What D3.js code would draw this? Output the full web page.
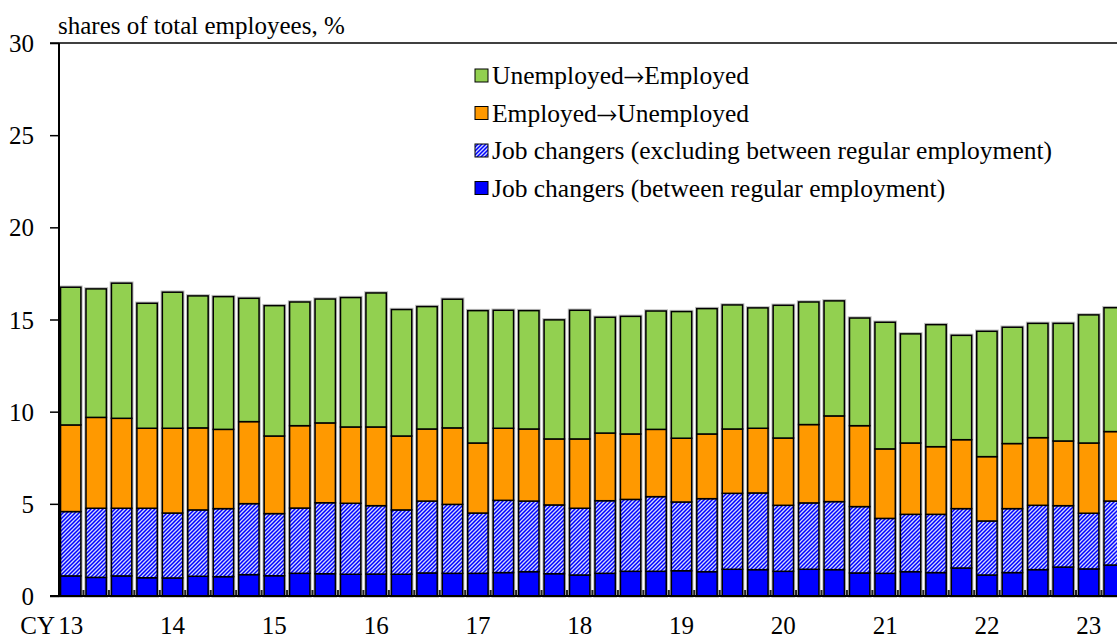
<!DOCTYPE html>
<html>
<head>
<meta charset="utf-8">
<script src="https://cdn.jsdelivr.net/npm/d3@7"></script>
<style>
    body { margin: 0; background: #fff; }
</style>
</head>
<body>
<svg id="chart" width="1117" height="639"></svg>
<script>

var serif = 'Liberation Serif';

// quarters 2013Q1 .. 2023Q2
var quarters = [];
for (var yr = 13; yr <= 23; yr++) {
    for (var q = 1; q <= 4; q++) {
        if (yr === 23 && q > 2) break;
        quarters.push(yr + 'Q' + q);
    }
}

var yearLabels = ['13', '14', '15', '16', '17', '18', '19', '20', '21', '22', '23'];

// legend names as [before arrow, arrow, after arrow]
var seriesNames = [
    ['Job changers (between regular employment)', '', ''],
    ['Job changers (excluding between regular employment)', '', ''],
    ['Employed', '\u2192', 'Unemployed'],
    ['Unemployed', '\u2192', 'Employed']
];

var betweenRegular = [1.09, 1.01, 1.09, 0.99, 0.98, 1.07, 1.05, 1.16, 1.10, 1.23, 1.21, 1.18, 1.19, 1.18,
    1.25, 1.23, 1.23, 1.27, 1.32, 1.21, 1.14, 1.23, 1.34, 1.34, 1.37, 1.32, 1.45, 1.43,
    1.34, 1.45, 1.43, 1.25, 1.23, 1.32, 1.27, 1.52, 1.14, 1.27, 1.43, 1.57, 1.47, 1.68];

var excludingRegular = [3.49, 3.75, 3.67, 3.77, 3.52, 3.60, 3.69, 3.85, 3.37, 3.54, 3.85, 3.85, 3.71, 3.49,
    3.90, 3.74, 3.27, 3.92, 3.83, 3.73, 3.62, 3.94, 3.90, 4.05, 3.73, 3.96, 4.12, 4.16,
    3.58, 3.60, 3.69, 3.60, 2.98, 3.11, 3.16, 3.22, 2.93, 3.47, 3.49, 3.33, 3.02, 3.47];

var employedToUnemployed = [4.70, 4.93, 4.88, 4.34, 4.60, 4.45, 4.30, 4.45, 4.21, 4.47, 4.33, 4.14, 4.27, 4.01,
    3.91, 4.15, 3.80, 3.91, 3.91, 3.58, 3.76, 3.67, 3.55, 3.65, 3.46, 3.51, 3.49, 3.51,
    3.65, 4.25, 4.65, 4.39, 3.77, 3.87, 3.67, 3.74, 3.49, 3.53, 3.67, 3.51, 3.81, 3.77];

var unemployedToEmployed = [7.47, 6.97, 7.33, 6.78, 7.38, 7.16, 7.20, 6.69, 7.07, 6.71, 6.72, 7.02, 7.27, 6.86,
    6.64, 6.98, 7.18, 6.40, 6.42, 6.46, 6.98, 6.28, 6.38, 6.42, 6.87, 6.80, 6.73, 6.53,
    7.20, 6.65, 6.24, 5.84, 6.87, 5.92, 6.62, 5.66, 6.80, 6.31, 6.20, 6.38, 6.95, 6.72];

var yTicks = [0, 5, 10, 15, 20, 25, 30];

var colors = ['#0000ff', 'url(#hatch)', '#ff9900', '#92d050'];

var svg = d3.select('#chart');

var plotTop = 43,
    plotBottom = 596,
    plotLeft = 59,
    step = 25.45;

var defs = svg.append('defs');
var pat = defs.append('pattern')
    .attr('id', 'hatch')
    .attr('patternUnits', 'userSpaceOnUse')
    .attr('width', 4)
    .attr('height', 4);
pat.append('rect')
    .attr('width', 4)
    .attr('height', 4)
    .attr('fill', '#d0d8ff');
pat.append('path')
    .attr('d', 'M-1,1 l2,-2 M0,4 l4,-4 M3,5 l2,-2')
    .attr('stroke', '#0000ff')
    .attr('stroke-width', 1.5);

var x = d3.scaleBand()
    .domain(quarters)
    .range([plotLeft - 1, plotLeft - 1 + step * quarters.length])
    .paddingInner(0.2)
    .paddingOuter(0.1);

var y = d3.scaleLinear()
    .domain([0, 30])
    .range([plotBottom, plotTop]);

var table = quarters.map(function(d, i) {
    return {
        quarter: d,
        s0: betweenRegular[i],
        s1: excludingRegular[i],
        s2: employedToUnemployed[i],
        s3: unemployedToEmployed[i]
    };
});

var stack = d3.stack().keys(['s0', 's1', 's2', 's3']);
var layers = stack(table);

// light halo round each bar
svg.append('g')
    .selectAll('rect')
    .data(table)
    .join('rect')
    .attr('x', function(d) { return x(d.quarter); })
    .attr('width', x.bandwidth())
    .attr('y', function(d) { return y(d.s0 + d.s1 + d.s2 + d.s3); })
    .attr('height', function(d) { return y(0) - y(d.s0 + d.s1 + d.s2 + d.s3); })
    .attr('fill', 'none')
    .attr('stroke', '#bdbdbd')
    .attr('stroke-width', 3.5);

svg.append('g')
    .selectAll('g')
    .data(layers)
    .join('g')
    .attr('fill', function(d, i) { return colors[i]; })
    .selectAll('rect')
    .data(function(d) { return d; })
    .join('rect')
    .attr('x', function(d) { return x(d.data.quarter); })
    .attr('width', x.bandwidth())
    .attr('y', function(d) { return y(d[1]); })
    .attr('height', function(d) { return y(d[0]) - y(d[1]); })
    .attr('stroke', '#000')
    .attr('stroke-width', 1.5);

// small marks between categories at the base
var gapMarks = quarters.slice(0, quarters.length - 1);
svg.append('g')
    .selectAll('line')
    .data(gapMarks)
    .join('line')
    .attr('x1', function(d) { return x(d) + x.bandwidth() + x.step() * 0.1; })
    .attr('x2', function(d) { return x(d) + x.bandwidth() + x.step() * 0.1; })
    .attr('y1', plotBottom - 6)
    .attr('y2', plotBottom)
    .attr('stroke', '#222')
    .attr('stroke-width', 2);

// axes
svg.append('line')
    .attr('x1', 50).attr('x2', 1117)
    .attr('y1', plotTop).attr('y2', plotTop)
    .attr('stroke', '#000').attr('stroke-width', 1.5);

svg.append('line')
    .attr('x1', 50).attr('x2', 1117)
    .attr('y1', plotBottom).attr('y2', plotBottom)
    .attr('stroke', '#000').attr('stroke-width', 2);

svg.append('line')
    .attr('x1', plotLeft).attr('x2', plotLeft)
    .attr('y1', plotTop).attr('y2', plotBottom)
    .attr('stroke', '#000').attr('stroke-width', 2);

var yAxis = svg.append('g')
    .attr('transform', 'translate(' + plotLeft + ',0)')
    .call(d3.axisLeft(y).tickValues(yTicks).tickSize(9).tickPadding(16));
yAxis.select('.domain').remove();
yAxis.selectAll('.tick line').attr('stroke', '#000').attr('stroke-width', 1.5);
yAxis.selectAll('.tick text')
    .attr('fill', '#000')
    .attr('dy', '0.34em')
    .style('font-family', serif)
    .style('font-size', '25px');

svg.append('g')
    .selectAll('text')
    .data(yearLabels)
    .join('text')
    .attr('x', function(d) { return x(d + 'Q1') + x.bandwidth() / 2; })
    .attr('y', 634)
    .attr('text-anchor', 'middle')
    .style('font-family', serif)
    .style('font-size', '25px')
    .text(function(d) { return d; });

svg.append('text')
    .attr('x', 55)
    .attr('y', 634)
    .attr('text-anchor', 'end')
    .style('font-family', serif)
    .style('font-size', '25px')
    .text('CY');

svg.append('text')
    .attr('x', 58)
    .attr('y', 34)
    .style('font-family', serif)
    .style('font-size', '25px')
    .text('shares of total employees, %');

// legend, top entry first
var legendItems = [3, 2, 1, 0];
var legend = svg.append('g')
    .selectAll('g')
    .data(legendItems)
    .join('g')
    .attr('transform', function(d, i) { return 'translate(475,' + (76 + i * 37.5) + ')'; });

legend.append('rect')
    .attr('x', 0)
    .attr('y', -7)
    .attr('width', 13)
    .attr('height', 13)
    .attr('fill', function(d) { return colors[d]; })
    .attr('stroke', '#000')
    .attr('stroke-width', 1);

var legendText = legend.append('text')
    .attr('x', 17)
    .attr('y', 8)
    .style('font-family', serif)
    .style('font-size', '25.5px');

legendText.append('tspan')
    .text(function(d) { return seriesNames[d][0]; });
legendText.append('tspan')
    .style('font-family', 'FreeSerif')
    .text(function(d) { return seriesNames[d][1]; });
legendText.append('tspan')
    .text(function(d) { return seriesNames[d][2]; });

</script>
</body>
</html>
